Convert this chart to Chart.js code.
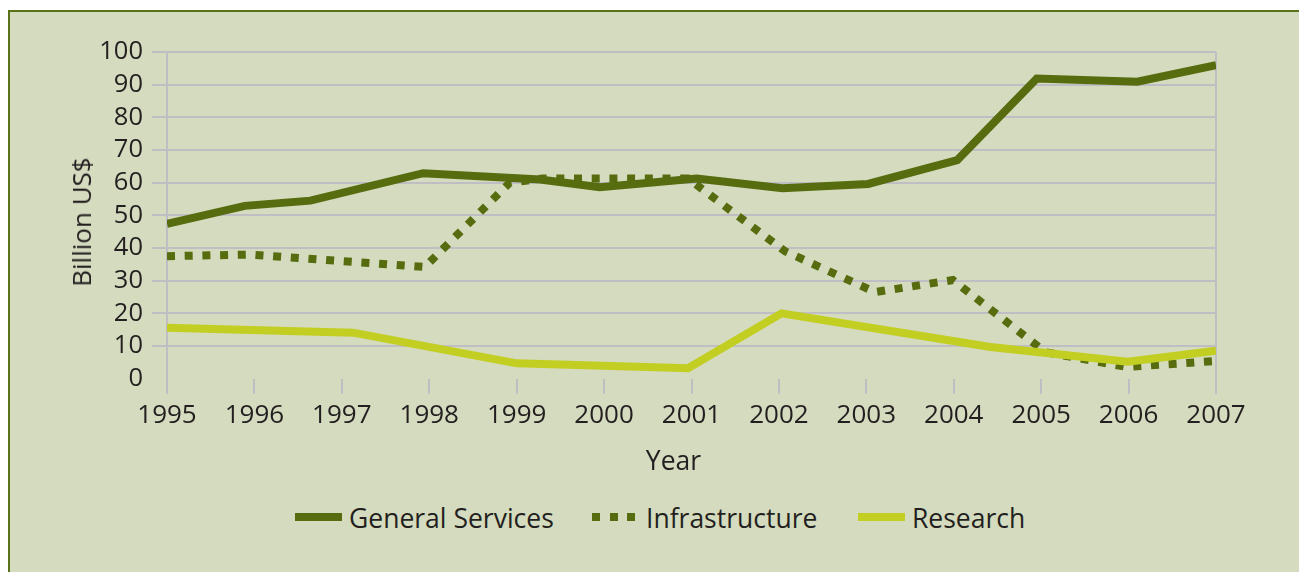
<!DOCTYPE html>
<html lang="en">
<head>
<meta charset="UTF-8">
<title>Support by category, 1995-2007</title>
<script src="https://cdn.jsdelivr.net/npm/chart.js"></script>
<style>
    body {
        margin: 0;
        width: 1299px;
        height: 572px;
        overflow: hidden;
        position: relative;
        background: #ffffff;
        font-family: "Open Sans", sans-serif;
        color: #231f20;
    }
    .panel {
        position: absolute;
        left: 8px;
        top: 10px;
        width: 1320px;
        height: 600px;
        background: #d5dbbe;
        border-left: 2px solid #5b7317;
        border-top: 2px solid #5b7317;
    }
    #chart {
        position: absolute;
        left: 0;
        top: 0;
    }
    .axis-title {
        position: absolute;
        line-height: 1;
        white-space: nowrap;
    }
    .x-title {
        left: 673.5px;
        top: 459.5px;
        font-size: 26.5px;
        transform: translate(-50%, -50%);
    }
    .y-title {
        left: 81px;
        top: 222px;
        font-size: 26px;
        transform: translate(-50%, -50%) rotate(-90deg);
    }
    .legend-item {
        position: absolute;
        top: 505px;
        display: flex;
        align-items: center;
        font-size: 26.5px;
        line-height: 1;
    }
    .legend-item:nth-child(1) { left: 295px; }
    .legend-item:nth-child(2) { left: 592px; }
    .legend-item:nth-child(3) { left: 858px; }
    .swatch {
        width: 47px;
        height: 8px;
        margin-right: 7px;
        position: relative;
        top: -1px;
    }
    .swatch.dotted {
        width: 44px;
        margin-right: 10px;
    }
</style>
</head>
<body>
<div class="panel"></div>
<canvas id="chart" width="1299" height="480"></canvas>
<div class="axis-title x-title">Year</div>
<div class="axis-title y-title">Billion US$</div>
<div id="legend"></div>

<script>
    // tick labels
    const yearTicks = [1995, 1996, 1997, 1998, 1999, 2000, 2001, 2002, 2003, 2004, 2005, 2006, 2007];
    const valueTicks = [0, 10, 20, 30, 40, 50, 60, 70, 80, 90, 100];

    const seriesNames = ['General Services', 'Infrastructure', 'Research'];

    // break points (year, billion US$)
    const generalYears = [1995, 1995.89, 1996.64, 1997.93, 1999.27, 1999.95, 2001.06, 2002.04, 2003.02, 2004.04, 2004.95, 2006.1, 2007];
    const generalValues = [47.4, 52.9, 54.5, 62.9, 61.0, 58.6, 61.3, 58.3, 59.6, 66.9, 91.9, 90.9, 96.0];

    const infraYears = [1995, 1995.95, 1997.95, 1998.92, 1999.3, 2000.96, 2002.07, 2003.1, 2003.99, 2005.05, 2005.98, 2007];
    const infraValues = [37.5, 38.0, 34.2, 60.0, 61.3, 61.3, 39.0, 26.5, 30.2, 8.1, 3.6, 5.4];

    const researchYears = [1995, 1997.13, 1999.0, 2000.96, 2002.03, 2004.42, 2005.99, 2007];
    const researchValues = [15.6, 14.1, 4.7, 3.2, 20.0, 9.7, 5.2, 8.6];

    const darkGreen = '#566c0e';
    const lightGreen = '#c2cf22';
    const gridGray = '#bebec4';
    const textColor = '#231f20';

    function points(xs, ys) {
        return xs.map((x, i) => ({ x: x, y: ys[i] }));
    }

    const datasets = [
        {
            label: seriesNames[0],
            data: points(generalYears, generalValues),
            borderColor: darkGreen,
            borderWidth: 8,
            order: 2
        },
        {
            label: seriesNames[1],
            data: points(infraYears, infraValues),
            borderColor: darkGreen,
            borderWidth: 8,
            borderDash: [8, 9.7],
            order: 1
        },
        {
            label: seriesNames[2],
            data: points(researchYears, researchValues),
            borderColor: lightGreen,
            borderWidth: 8,
            order: 0
        }
    ];

    datasets.forEach(d => {
        d.pointRadius = 0;
        d.pointHoverRadius = 0;
        d.tension = 0;
        d.fill = false;
        d.borderCapStyle = 'butt';
    });

    new Chart(document.getElementById('chart'), {
        type: 'line',
        data: { datasets: datasets },
        options: {
            responsive: false,
            animation: false,
            layout: { padding: { left: 66, right: 83, top: 52, bottom: 0 } },
            plugins: {
                legend: { display: false },
                tooltip: { enabled: false }
            },
            scales: {
                x: {
                    type: 'linear',
                    min: 1995,
                    max: 2007,
                    afterBuildTicks: s => { s.ticks = yearTicks.map(v => ({ value: v })); },
                    afterFit: s => { s.height = 101.3; },
                    border: { display: false },
                    grid: {
                        color: c => (c.index === 0 || c.index === yearTicks.length - 1) ? gridGray : 'transparent',
                        tickColor: gridGray,
                        tickLength: 15,
                        lineWidth: 2
                    },
                    ticks: {
                        autoSkip: false,
                        maxRotation: 0,
                        padding: 6,
                        color: textColor,
                        font: { family: 'Open Sans', size: 26 },
                        callback: v => String(v)
                    }
                },
                y: {
                    min: 0,
                    max: 100,
                    afterBuildTicks: s => { s.ticks = valueTicks.map(v => ({ value: v })); },
                    afterFit: s => { s.width = 101; },
                    border: { display: false },
                    grid: {
                        color: c => (c.tick && c.tick.value === 0) ? 'transparent' : gridGray,
                        tickColor: c => (c.tick && c.tick.value === 0) ? 'transparent' : gridGray,
                        tickLength: 15,
                        lineWidth: 2
                    },
                    ticks: {
                        autoSkip: false,
                        padding: 9,
                        color: textColor,
                        font: { family: 'Open Sans', size: 25.5 }
                    }
                }
            }
        }
    });

    // legend below the plot
    const legend = document.getElementById('legend');
    datasets.forEach(d => {
        const item = document.createElement('div');
        item.className = 'legend-item';
        const sw = document.createElement('div');
        sw.className = 'swatch';
        if (d.borderDash) {
            sw.classList.add('dotted');
            sw.style.background = `repeating-linear-gradient(to right, ${d.borderColor} 0 8px, transparent 8px 17.7px)`;
        } else {
            sw.style.background = d.borderColor;
        }
        const txt = document.createElement('span');
        txt.textContent = d.label;
        item.appendChild(sw);
        item.appendChild(txt);
        legend.appendChild(item);
    });
</script>
</body>
</html>
